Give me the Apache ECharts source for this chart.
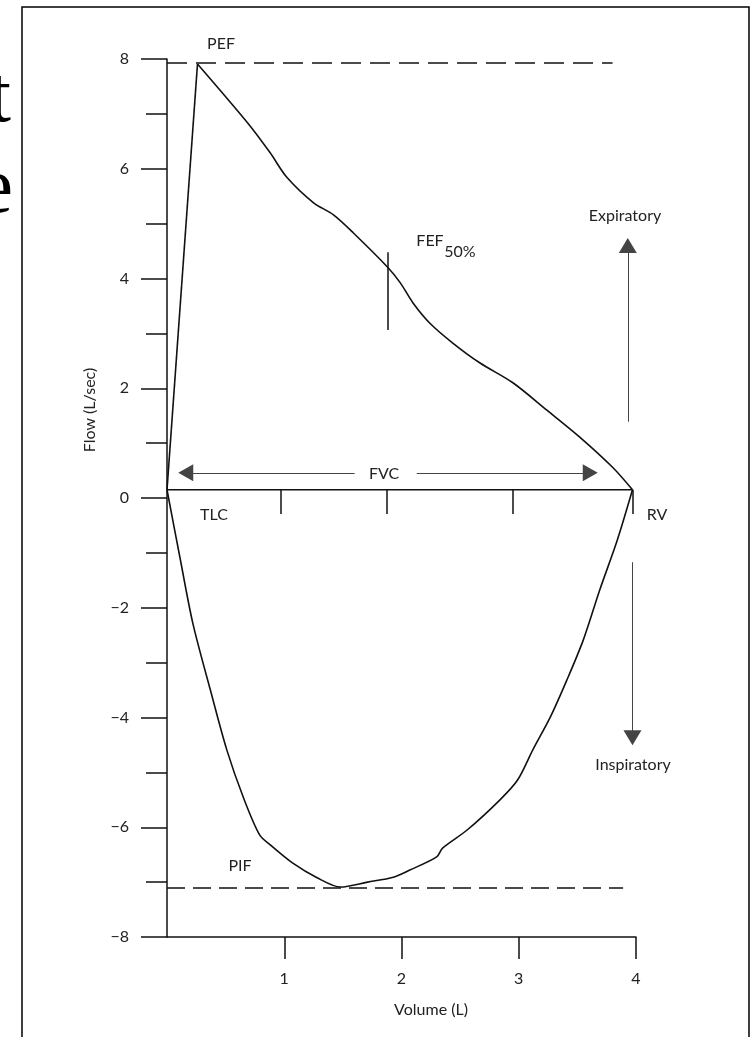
<!DOCTYPE html>
<html>
<head>
<meta charset="utf-8">
<title>Flow-volume loop</title>
<script src="https://cdn.jsdelivr.net/npm/echarts@6/dist/echarts.min.js"></script>
<style>
    html, body { margin: 0; padding: 0; background: #fff; }
    #chart { width: 751px; height: 1037px; }
</style>
</head>
<body>
<div id="chart"></div>
<script>
// values: volume (L) and flow (L/sec)
var expVolume = [0, 0.26, 0.69, 0.88, 1.02, 1.25, 1.42, 1.59, 1.88, 1.99, 2.10, 2.24, 2.44, 2.67, 2.95, 3.24, 3.52, 3.80, 3.97];
var expFlow   = [0.15, 7.91, 6.83, 6.29, 5.85, 5.38, 5.16, 4.83, 4.21, 3.92, 3.55, 3.19, 2.82, 2.46, 2.10, 1.60, 1.11, 0.56, 0.15];
var inspVolume = [0, 0.11, 0.22, 0.37, 0.51, 0.65, 0.79, 0.88, 1.07, 1.28, 1.48, 1.71, 1.93, 2.07, 2.30, 2.35, 2.56, 2.84, 2.99, 3.12, 3.27, 3.41, 3.55, 3.69, 3.84, 3.97];
var inspFlow   = [0.15, -1.08, -2.28, -3.50, -4.59, -5.45, -6.14, -6.32, -6.65, -6.92, -7.09, -7.00, -6.91, -6.78, -6.54, -6.38, -6.05, -5.50, -5.14, -4.59, -3.99, -3.32, -2.59, -1.68, -0.77, 0.15];

var baseFlow = 0.15;          // the FVC line sits a touch above the 0 tick
var tlc = 0, rv = 3.97;
var pef = 7.93, pefLineEnd = 3.80;
var pif = -7.11, pifLineEnd = 3.89;
var fef50Volume = 1.885, fef50Top = 4.48, fef50Bottom = 3.06;
var volumeTicks = [1, 2, 3, 4];
var fvcTicks = [0.97, 1.87, 2.95, 3.97];
var fvcTickBottom = -0.29;

// arrows: [x1, y1, x2, y2] in data units, head at the second point
var expArrow = [3.93, 1.39, 3.93, 4.60];
var inspArrow = [3.97, -1.17, 3.97, -4.37];
var fvcArrowLeft = [1.60, 0.46, 0.16, 0.46];
var fvcArrowRight = [2.13, 0.46, 3.61, 0.46];

function pairs(xs, ys) {
    var out = [];
    for (var i = 0; i < xs.length; i++) out.push([xs[i], ys[i]]);
    return out;
}

var ink = '#111';
var solid = { color: ink, width: 1.5, type: 'solid' };
var thin = { color: '#444', width: 1, type: 'solid' };

function seg(x1, y1, x2, y2, style, head) {
    return [
        { coord: [x1, y1], symbol: 'none', lineStyle: style },
        { coord: [x2, y2], symbol: head ? 'triangle' : 'none', symbolSize: head || 0, lineStyle: style }
    ];
}

var marks = [
    seg(tlc, pef, pefLineEnd, pef, { color: ink, width: 1.5, type: [20, 9] }),
    seg(tlc, pif, pifLineEnd, pif, { color: ink, width: 1.5, type: [18, 8] }),
    seg(fef50Volume, fef50Top, fef50Volume, fef50Bottom, solid),
    seg(expArrow[0], expArrow[1], expArrow[2], expArrow[3], thin, [18, 15]),
    seg(inspArrow[0], inspArrow[1], inspArrow[2], inspArrow[3], thin, [18, 15]),
    seg(fvcArrowLeft[0], fvcArrowLeft[1], fvcArrowLeft[2], fvcArrowLeft[3], thin, [17, 15]),
    seg(fvcArrowRight[0], fvcArrowRight[1], fvcArrowRight[2], fvcArrowRight[3], thin, [17, 15])
];
fvcTicks.forEach(function (v) {
    marks.push(seg(v, baseFlow, v, fvcTickBottom, solid));
});

var font = 'Lato';
function label(text, x, y, extra) {
    var el = {
        type: 'text', x: x, y: y, z: 10,
        style: {
            text: text, fontFamily: font, fontSize: 16, fill: '#222',
            align: 'center', verticalAlign: 'middle',
            textAlign: 'center', textVerticalAlign: 'middle'
        }
    };
    if (extra) Object.assign(el, extra);
    return el;
}

var expPoints = pairs(expVolume, expFlow);
var curve = { color: ink, width: 1.6 };

var myChart = echarts.init(document.getElementById('chart'));

var option = {
    backgroundColor: '#fff',
    animation: false,
    grid: { left: 167, right: 115, top: 59, bottom: 100, outerBoundsMode: 'none' },
    xAxis: {
        type: 'value', min: 0, max: 4,
        axisLine: { onZero: false, lineStyle: { color: ink, width: 1.5 } },
        axisTick: { customValues: volumeTicks, length: 22, lineStyle: { color: ink, width: 1.5 } },
        axisLabel: { customValues: volumeTicks, margin: 34, fontSize: 16, fontFamily: font, color: '#222' },
        splitLine: { show: false }
    },
    yAxis: {
        type: 'value', min: -8, max: 8, interval: 2,
        axisLine: { show: true, onZero: false, lineStyle: { color: ink, width: 1.5 } },
        axisTick: { show: true, length: 26, lineStyle: { color: ink, width: 1.5 } },
        minorTick: { show: true, splitNumber: 2, length: 21, lineStyle: { color: ink, width: 1.5 } },
        axisLabel: {
            margin: 38, fontSize: 16, fontFamily: font, color: '#222',
            formatter: function (v) { return String(v).replace('-', '\u2212'); }
        },
        splitLine: { show: false }
    },
    series: [
        {
            // straight rise from TLC to the peak
            name: 'Expiratory rise', type: 'line', data: expPoints.slice(0, 2),
            showSymbol: false, lineStyle: curve
        },
        {
            name: 'Expiratory', type: 'line', data: expPoints.slice(1),
            showSymbol: false, smooth: 0.3, lineStyle: curve
        },
        {
            name: 'Inspiratory', type: 'line', data: pairs(inspVolume, inspFlow),
            showSymbol: false, smooth: 0.3, lineStyle: curve
        },
        {
            name: 'FVC', type: 'line', data: [[tlc, baseFlow], [rv, baseFlow]],
            showSymbol: false, lineStyle: { color: ink, width: 1.5 },
            markLine: {
                silent: true, symbol: ['none', 'none'], animation: false,
                label: { show: false }, emphasis: { disabled: true },
                data: marks
            }
        }
    ],
    graphic: [
        { type: 'rect', shape: { x: 22, y: 7, width: 727, height: 1045 }, style: { fill: 'none', stroke: '#000', lineWidth: 1.5 } },
        { type: 'text', x: 11, y: 100, style: { text: 't', fontFamily: 'Liberation Serif', fontSize: 80, fill: '#000', align: 'right', verticalAlign: 'middle', textAlign: 'right', textVerticalAlign: 'middle' } },
        { type: 'text', x: 13, y: 191, style: { text: 'e', fontFamily: 'Liberation Serif', fontSize: 80, fill: '#000', align: 'right', verticalAlign: 'middle', textAlign: 'right', textVerticalAlign: 'middle' } },
        label('PEF', 221, 44),
        label('FEF', 430, 241),
        label('50%', 460, 252),
        label('Expiratory', 625, 216),
        label('Inspiratory', 633, 765),
        label('FVC', 384, 474),
        label('TLC', 214, 515),
        label('RV', 657, 515),
        label('PIF', 240, 866),
        label('Flow (L/sec)', 90, 410, { rotation: Math.PI / 2 }),
        label('Volume (L)', 431, 1010)
    ]
};

myChart.setOption(option);
</script>
</body>
</html>
